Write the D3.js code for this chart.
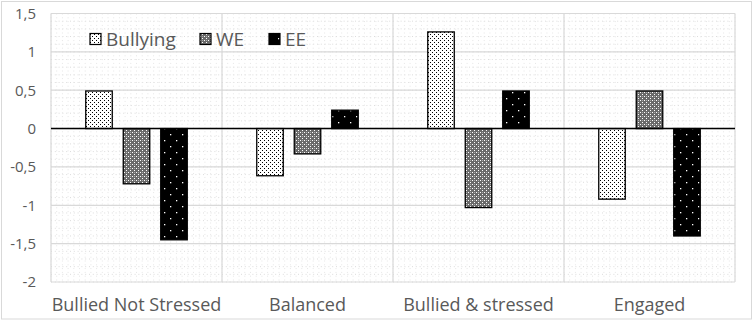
<!DOCTYPE html>
<html><head><meta charset="utf-8">
<script src="https://cdn.jsdelivr.net/npm/d3@7"></script>
<style>body{margin:0;background:#fff}svg{display:block}text{font-family:"Open Sans",sans-serif;fill:#595959}</style>
</head><body><svg id="c" width="754" height="321"></svg>
<script>
const categories = ["Bullied Not Stressed","Balanced","Bullied & stressed","Engaged"];
const series = ["Bullying","WE","EE"];
const bullying = [0.49,-0.615,1.26,-0.92];
const we = [-0.72,-0.33,-1.03,0.49];
const ee = [-1.45,0.24,0.49,-1.40];
const yTicks = [1.5,1,0.5,0,-0.5,-1,-1.5,-2];
const tickLabels = ["1,5","1","0,5","0","-0,5","-1","-1,5","-2"];
const values = {Bullying:bullying, WE:we, EE:ee};

const svg = d3.select("#c");
const defs = svg.append("defs");
const p1 = defs.append("pattern").attr("id","pBul").attr("patternUnits","userSpaceOnUse").attr("width",4).attr("height",4);
p1.append("rect").attr("width",4).attr("height",4).attr("fill","#fff");
p1.append("rect").attr("x",0).attr("y",0).attr("width",1).attr("height",1).attr("fill","#000");
p1.append("rect").attr("x",2).attr("y",2).attr("width",1).attr("height",1).attr("fill","#000");
const p2 = defs.append("pattern").attr("id","pWE").attr("patternUnits","userSpaceOnUse").attr("width",4).attr("height",4);
p2.append("rect").attr("width",4).attr("height",4).attr("fill","#6a6a6a");
p2.append("rect").attr("x",0).attr("y",0).attr("width",1).attr("height",1).attr("fill","#fff");
p2.append("rect").attr("x",2).attr("y",2).attr("width",1).attr("height",1).attr("fill","#fff");
p2.append("rect").attr("x",2).attr("y",0).attr("width",1).attr("height",1).attr("fill","#aaa");
const p3 = defs.append("pattern").attr("id","pEE").attr("patternUnits","userSpaceOnUse").attr("width",12).attr("height",12);
p3.append("rect").attr("width",12).attr("height",12).attr("fill","#000");
p3.append("rect").attr("x",2).attr("y",2).attr("width",1.3).attr("height",1.3).attr("fill","#fff");
p3.append("rect").attr("x",8).attr("y",8).attr("width",1.3).attr("height",1.3).attr("fill","#fff");
const fills = {Bullying:"url(#pBul)", WE:"url(#pWE)", EE:"url(#pEE)"};

svg.append("rect").attr("x",1.5).attr("y",1.5).attr("width",750).attr("height",317.5).attr("fill","#fff").attr("stroke","#d9d9d9");

const L=51,R=735,T=13.5,B=282;
const x0 = d3.scaleBand().domain(categories).range([L,R]).padding(0);
const bw = x0.bandwidth();
const x1 = d3.scaleBand().domain(series).range([34.75, bw-34.75]).paddingInner(0.293).paddingOuter(0);
const y = d3.scaleLinear().domain([-2,1.5]).range([B,T]);

const minorY = d3.range(-20,16).map(d=>d/10);
svg.append("g").selectAll("line").data(minorY).join("line")
  .attr("x1",L).attr("x2",R).attr("y1",d=>y(d)).attr("y2",d=>y(d))
  .attr("stroke","#dcdcdc").attr("stroke-width",1).attr("stroke-dasharray","1 2.8");
const minorX = d3.range(0,121).map(i=>L+i*(R-L)/120);
svg.append("g").selectAll("line").data(minorX).join("line")
  .attr("x1",d=>d).attr("x2",d=>d).attr("y1",T).attr("y2",B)
  .attr("stroke","#e6e6e6").attr("stroke-width",1).attr("stroke-dasharray","1 2.8");

svg.append("g").selectAll("line").data(yTicks).join("line")
  .attr("x1",L).attr("x2",R).attr("y1",d=>y(d)).attr("y2",d=>y(d))
  .attr("stroke","#d9d9d9").attr("stroke-width",1.2);
svg.append("g").selectAll("line").data(categories.map(c=>x0(c)).concat([R])).join("line")
  .attr("x1",d=>d).attr("x2",d=>d).attr("y1",T).attr("y2",B)
  .attr("stroke","#d9d9d9").attr("stroke-width",1.2);

const yAxis = d3.axisLeft(y).tickValues(yTicks).tickSize(0).tickPadding(0).tickFormat((d,i)=>tickLabels[i]);
const ya = svg.append("g").attr("transform",`translate(${36},0)`).call(yAxis);
ya.select(".domain").remove();
ya.selectAll("text").style("font-size","15px").attr("fill","#595959").style("font-family","Open Sans, sans-serif");

const g = svg.append("g");
categories.forEach((c,ci)=>{
  series.forEach(s=>{
    const v = values[s][ci];
    g.append("rect")
      .attr("x", x0(c)+x1(s)).attr("width", x1.bandwidth())
      .attr("y", y(Math.max(0,v))).attr("height", Math.abs(y(v)-y(0)))
      .attr("fill", fills[s]).attr("stroke","#000").attr("stroke-width",1.3);
  });
});
svg.append("line").attr("x1",L).attr("x2",R).attr("y1",y(0)).attr("y2",y(0)).attr("stroke","#000").attr("stroke-width",1.6);

const xAxis = d3.axisBottom(x0).tickSize(0).tickPadding(0);
const xa = svg.append("g").attr("transform",`translate(0,${311})`).call(xAxis);
xa.select(".domain").remove();
xa.selectAll("text").attr("dy",null).attr("dominant-baseline","auto").style("font-size","18px").attr("fill","#595959").style("font-family","Open Sans, sans-serif");

const legX = [90,200,269];
const lg = svg.append("g");
series.forEach((s,i)=>{
  lg.append("rect").attr("x",legX[i]).attr("y",33.5).attr("width",11).attr("height",11).attr("fill",fills[s]).attr("stroke","#000").attr("stroke-width",1.2);
  lg.append("text").attr("x",legX[i]+16).attr("y",46).text(s).style("font-size","19px");
});
</script></body></html>
